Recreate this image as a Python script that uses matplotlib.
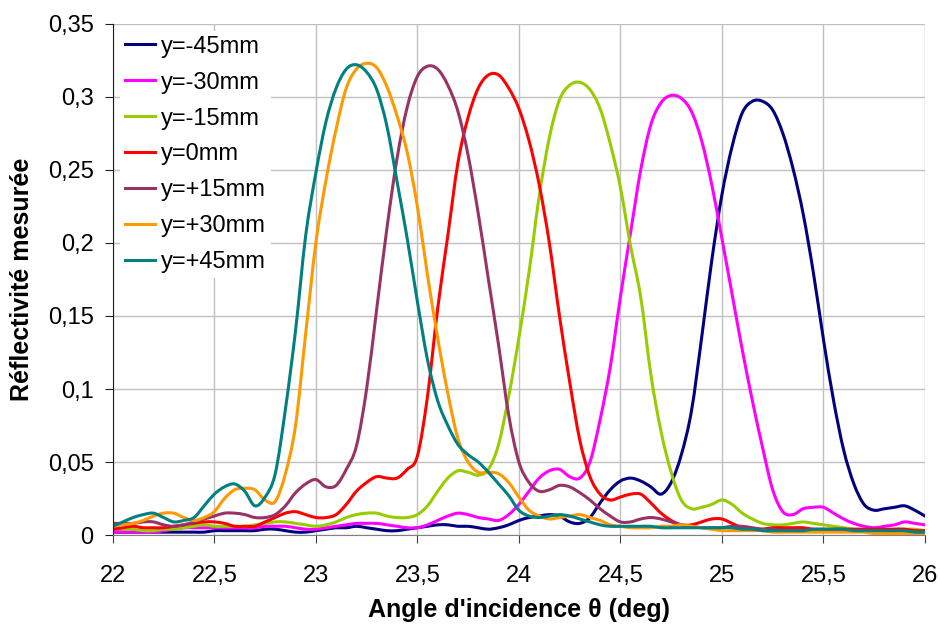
import numpy as np
import matplotlib
matplotlib.use("Agg")
import matplotlib.pyplot as plt
from matplotlib.path import Path
from matplotlib.patches import PathPatch
from matplotlib.lines import Line2D
from matplotlib.ticker import FuncFormatter, MultipleLocator

plt.rcParams['font.family'] = ['Liberation Sans', 'DejaVu Sans']

# incidence angle grid (deg), 0.05 step
angle = np.linspace(22.0, 26.0, 81)

# measured reflectivity per position y
r_m45 = [0.002, 0.002, 0.002, 0.002, 0.002, 0.002, 0.002, 0.002, 0.002, 0.002,
         0.003, 0.003, 0.003, 0.003, 0.003, 0.004, 0.004, 0.003, 0.002, 0.002,
         0.003, 0.004, 0.005, 0.005, 0.006, 0.005, 0.004, 0.003, 0.003, 0.004,
         0.005, 0.006, 0.007, 0.007, 0.006, 0.006, 0.005, 0.004, 0.005, 0.007,
         0.010, 0.012, 0.013, 0.014, 0.013, 0.009, 0.008, 0.012, 0.022, 0.031,
         0.037, 0.039, 0.037, 0.033, 0.028, 0.036, 0.055, 0.085, 0.135, 0.188,
         0.233, 0.266, 0.289, 0.297, 0.297, 0.291, 0.275, 0.251, 0.220, 0.180,
         0.134, 0.092, 0.058, 0.035, 0.021, 0.017, 0.018, 0.019, 0.020, 0.017,
         0.013]
r_m30 = [0.002, 0.002, 0.002, 0.002, 0.002, 0.003, 0.004, 0.005, 0.005, 0.005,
         0.005, 0.005, 0.005, 0.005, 0.005, 0.006, 0.006, 0.006, 0.005, 0.004,
         0.004, 0.005, 0.006, 0.007, 0.008, 0.008, 0.008, 0.007, 0.006, 0.005,
         0.005, 0.007, 0.010, 0.013, 0.015, 0.014, 0.012, 0.011, 0.010, 0.014,
         0.021, 0.030, 0.039, 0.044, 0.045, 0.040, 0.039, 0.050, 0.079, 0.115,
         0.163, 0.207, 0.250, 0.281, 0.296, 0.301, 0.299, 0.290, 0.270, 0.240,
         0.203, 0.165, 0.127, 0.092, 0.060, 0.031, 0.016, 0.014, 0.018, 0.019,
         0.019, 0.015, 0.011, 0.008, 0.006, 0.005, 0.006, 0.007, 0.009, 0.008,
         0.007]
r_m15 = [0.005, 0.004, 0.004, 0.003, 0.003, 0.004, 0.004, 0.005, 0.006, 0.007,
         0.006, 0.006, 0.006, 0.006, 0.007, 0.008, 0.009, 0.009, 0.008, 0.007,
         0.006, 0.007, 0.009, 0.012, 0.014, 0.015, 0.015, 0.013, 0.012, 0.012,
         0.014, 0.020, 0.030, 0.039, 0.044, 0.043, 0.041, 0.045, 0.062, 0.095,
         0.135, 0.180, 0.232, 0.272, 0.298, 0.308, 0.310, 0.305, 0.292, 0.268,
         0.238, 0.198, 0.163, 0.110, 0.071, 0.043, 0.024, 0.018, 0.019, 0.021,
         0.024, 0.021, 0.015, 0.011, 0.008, 0.007, 0.007, 0.008, 0.009, 0.008,
         0.007, 0.006, 0.005, 0.004, 0.004, 0.003, 0.003, 0.004, 0.004, 0.004,
         0.003]
r_0 = [0.004, 0.005, 0.006, 0.005, 0.005, 0.005, 0.006, 0.007, 0.008, 0.009,
       0.009, 0.008, 0.006, 0.006, 0.006, 0.009, 0.012, 0.015, 0.016, 0.014,
       0.012, 0.012, 0.014, 0.021, 0.030, 0.036, 0.040, 0.039, 0.039, 0.045,
       0.054, 0.095, 0.155, 0.205, 0.255, 0.286, 0.306, 0.315, 0.315, 0.306,
       0.292, 0.270, 0.240, 0.200, 0.150, 0.105, 0.065, 0.040, 0.028, 0.024,
       0.026, 0.028, 0.028, 0.022, 0.015, 0.010, 0.007, 0.007, 0.009, 0.011,
       0.011, 0.008, 0.005, 0.004, 0.004, 0.005, 0.005, 0.005, 0.005, 0.004,
       0.004, 0.004, 0.004, 0.004, 0.004, 0.004, 0.004, 0.004, 0.004, 0.003,
       0.003]
r_p15 = [0.008, 0.008, 0.008, 0.009, 0.009, 0.007, 0.006, 0.007, 0.009, 0.011,
         0.013, 0.015, 0.015, 0.014, 0.012, 0.012, 0.014, 0.020, 0.029, 0.035,
         0.038, 0.033, 0.034, 0.045, 0.061, 0.100, 0.155, 0.210, 0.258, 0.293,
         0.314, 0.321, 0.319, 0.308, 0.290, 0.260, 0.220, 0.175, 0.130, 0.082,
         0.050, 0.036, 0.030, 0.031, 0.034, 0.033, 0.029, 0.024, 0.018, 0.013,
         0.009, 0.009, 0.011, 0.012, 0.011, 0.009, 0.007, 0.006, 0.005, 0.005,
         0.005, 0.006, 0.006, 0.005, 0.004, 0.004, 0.003, 0.003, 0.003, 0.003,
         0.003, 0.003, 0.003, 0.003, 0.003, 0.003, 0.003, 0.002, 0.002, 0.002,
         0.002]
r_p30 = [0.006, 0.007, 0.008, 0.010, 0.013, 0.015, 0.015, 0.012, 0.010, 0.012,
         0.016, 0.025, 0.031, 0.032, 0.031, 0.024, 0.023, 0.042, 0.075, 0.138,
         0.200, 0.243, 0.278, 0.306, 0.319, 0.323, 0.320, 0.307, 0.287, 0.262,
         0.225, 0.178, 0.135, 0.097, 0.066, 0.050, 0.043, 0.043, 0.042, 0.036,
         0.026, 0.017, 0.013, 0.011, 0.012, 0.013, 0.014, 0.012, 0.010, 0.007,
         0.006, 0.005, 0.005, 0.005, 0.006, 0.006, 0.007, 0.006, 0.005, 0.004,
         0.003, 0.003, 0.003, 0.003, 0.003, 0.002, 0.002, 0.002, 0.002, 0.002,
         0.002, 0.002, 0.002, 0.002, 0.002, 0.001, 0.001, 0.001, 0.001, 0.001,
         0.001]
r_p45 = [0.006, 0.009, 0.012, 0.014, 0.015, 0.012, 0.009, 0.010, 0.012, 0.020,
         0.028, 0.033, 0.035, 0.030, 0.020, 0.026, 0.042, 0.086, 0.140, 0.205,
         0.248, 0.283, 0.306, 0.319, 0.322, 0.317, 0.305, 0.280, 0.242, 0.203,
         0.160, 0.120, 0.092, 0.075, 0.062, 0.055, 0.050, 0.043, 0.035, 0.027,
         0.017, 0.013, 0.012, 0.013, 0.014, 0.013, 0.011, 0.009, 0.007, 0.006,
         0.006, 0.006, 0.006, 0.006, 0.005, 0.005, 0.005, 0.005, 0.005, 0.005,
         0.005, 0.005, 0.004, 0.004, 0.003, 0.003, 0.003, 0.003, 0.003, 0.004,
         0.004, 0.004, 0.004, 0.003, 0.003, 0.003, 0.003, 0.003, 0.003, 0.002,
         0.002]

labels = ["y=-45mm", "y=-30mm", "y=-15mm", "y=0mm", "y=+15mm", "y=+30mm", "y=+45mm"]
colors = ["#000080", "#ff00ff", "#99cc00", "#ff0000", "#993366", "#ff9900", "#008080"]
series = [r_m45, r_m30, r_m15, r_0, r_p15, r_p30, r_p45]


def comma(v, pos):
    s = ("%.2f" % v).rstrip("0").rstrip(".")
    return s.replace(".", ",")


def smooth_path(x, y):
    # Catmull-Rom through the data points, drawn as cubic Bezier segments
    # (same look as a "smoothed line" in a spreadsheet chart)
    p = np.column_stack([x, y])
    ext = np.vstack([p[0], p, p[-1]])
    verts = [p[0]]
    codes = [Path.MOVETO]
    for i in range(1, len(ext) - 2):
        p0, p1, p2, p3 = ext[i - 1], ext[i], ext[i + 1], ext[i + 2]
        verts += [p1 + (p2 - p0) / 6.0, p2 - (p3 - p1) / 6.0, p2]
        codes += [Path.CURVE4] * 3
    return Path(verts, codes)


fig = plt.figure(figsize=(9.4, 6.28), dpi=100)
ax = fig.add_axes([0.120, 0.148, 0.864, 0.814])

handles = []
for ys, lab, col in zip(series, labels, colors):
    ax.add_patch(PathPatch(smooth_path(angle, np.asarray(ys)), fill=False,
                           edgecolor=col, lw=2.2, capstyle="round",
                           joinstyle="round"))
    handles.append(Line2D([], [], color=col, lw=2.2, label=lab))

ax.set_xlim(22, 26)
ax.set_ylim(0, 0.35)
ax.xaxis.set_major_locator(MultipleLocator(0.5))
ax.yaxis.set_major_locator(MultipleLocator(0.05))
ax.xaxis.set_major_formatter(FuncFormatter(comma))
ax.yaxis.set_major_formatter(FuncFormatter(comma))
ax.grid(True, color="#c0c0c0", lw=1.0)
ax.set_axisbelow(True)

for side in ("top", "right"):
    ax.spines[side].set_visible(False)
ax.spines["left"].set_color("#202020")
ax.spines["bottom"].set_color("#808080")
ax.tick_params(axis="both", direction="out", length=5.8, labelsize=17,
               colors="#000000")
ax.tick_params(axis="x", pad=15.5, color="#404040")
ax.tick_params(axis="y", pad=8, color="#202020")

ax.set_xlabel("Angle d'incidence θ (deg)", fontsize=18, fontweight="bold", labelpad=8)
ax.set_ylabel("Réflectivité mesurée", fontsize=18, fontweight="bold", labelpad=10)

leg = ax.legend(handles=handles, loc="upper left", bbox_to_anchor=(0.0, 1.0),
                fontsize=17, frameon=True, fancybox=False, edgecolor="none",
                facecolor="white", framealpha=1.0, handlelength=1.3,
                handletextpad=0.25, labelspacing=0.59, borderpad=0.2,
                borderaxespad=0.3)

fig.savefig("out.png", dpi=100)
